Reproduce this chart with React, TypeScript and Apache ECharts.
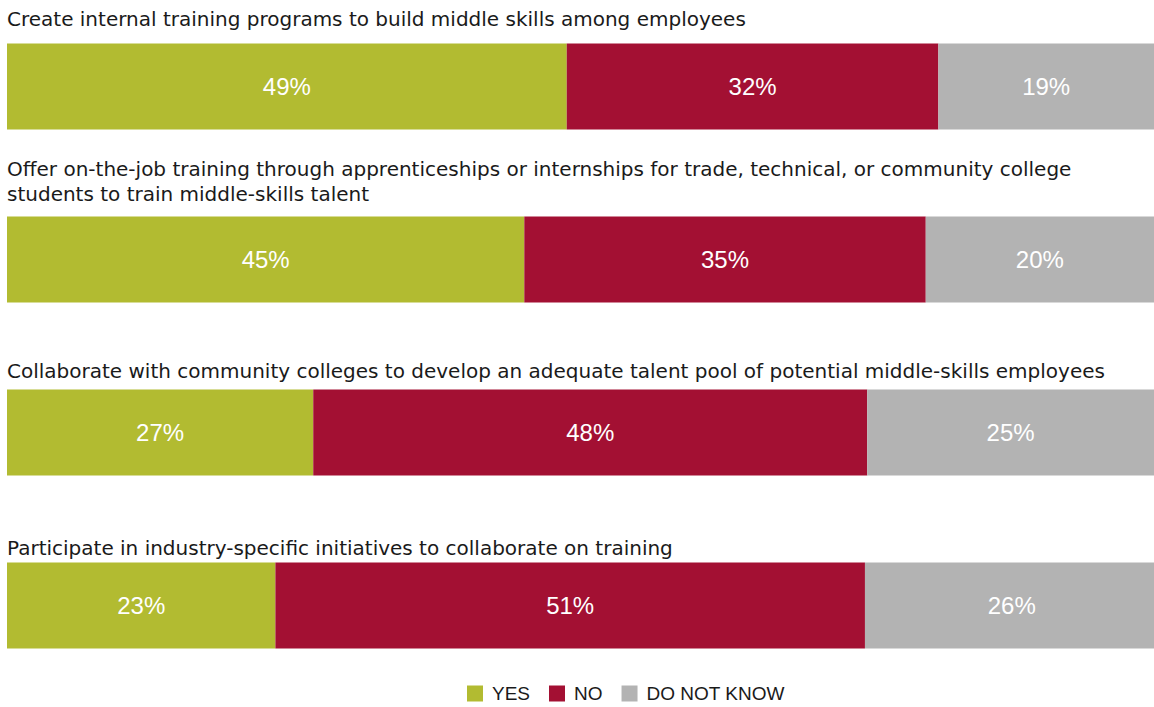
import React, { useEffect, useRef } from "react";
import * as echarts from "echarts";

const categories = [
  "Create internal training programs to build middle skills among employees",
  "Offer on-the-job training through apprenticeships or internships for trade, technical, or community college\nstudents to train middle-skills talent",
  "Collaborate with community colleges to develop an adequate talent pool of potential middle-skills employees",
  "Participate in industry-specific initiatives to collaborate on training",
];
const yesValues = [48.8, 45.1, 26.7, 23.4];
const noValues = [32.4, 35.0, 48.3, 51.4];
const dkValues = [18.8, 19.9, 25.0, 25.6];
const seriesNames = ["YES", "NO", "DO NOT KNOW"];

const colors = ["#B2BB31", "#A31033", "#B3B3B3"];
const titleTops = [6, 156, 358, 535];
const TITLE_FONT = "'DejaVu Sans', Verdana, sans-serif";
const FONT = "'Liberation Sans', Arial, sans-serif";

export default function App() {
  const ref = useRef<HTMLDivElement>(null);
  useEffect(() => {
    if (!ref.current) return;
    const chart = echarts.init(ref.current, undefined, { renderer: "svg" });
    const data = [yesValues, noValues, dkValues];
    chart.setOption({
      animation: false,
      grid: { left: 7, width: 1147, top: -2, height: 694 },
      xAxis: { type: "value", min: 0, max: 100, show: false },
      yAxis: { type: "category", data: categories, inverse: true, show: false },
      legend: {
        left: 467,
        top: 684,
        padding: 0,
        icon: "rect",
        itemWidth: 16,
        itemHeight: 16,
        itemGap: 19,
        textStyle: { fontFamily: FONT, fontSize: 19, color: "#1a1a1a", padding: [0, 0, 0, 4] },
        data: seriesNames,
      },
      graphic: categories.map((c, i) => ({
        type: "text",
        x: 7,
        y: titleTops[i],
        style: {
          text: c,
          font: `20px ${TITLE_FONT}`,
          fill: "#1a1a1a",
          lineHeight: 25,
          verticalAlign: "top",
        },
      })),
      series: seriesNames.map((n, k) => ({
        name: n,
        type: "bar",
        stack: "total",
        barWidth: 86,
        clip: false,
        data: data[k],
        itemStyle: { color: colors[k] },
        label: {
          show: true,
          position: "inside",
          color: "#ffffff",
          fontFamily: FONT,
          fontSize: 24,
          formatter: (p: any) => Math.round(p.value) + "%",
        },
      })),
    });
    return () => chart.dispose();
  }, []);
  return (
    <div
      ref={ref}
      style={{ position: "absolute", left: 0, top: 0, width: 1154, height: 707, background: "#fff" }}
    />
  );
}
